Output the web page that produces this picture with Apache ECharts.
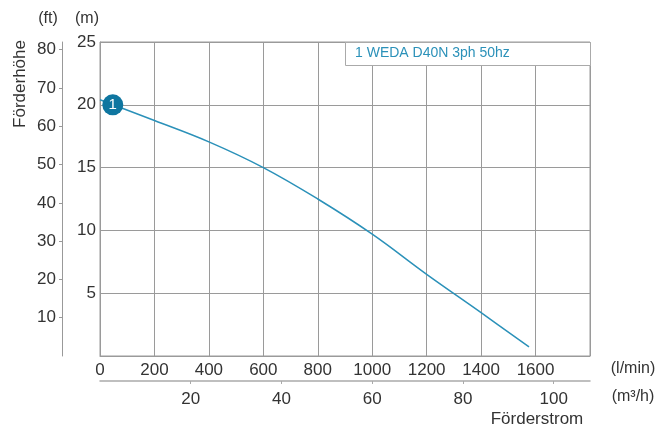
<!DOCTYPE html>
<html><head><meta charset="utf-8">
<script src="https://cdn.jsdelivr.net/npm/echarts@6/dist/echarts.min.js"></script>
<style>html,body{margin:0;padding:0;background:#fff}#c{width:672px;height:430px}</style>
</head><body><div id="c"></div>
<script>
// Data (flow in l/min, head in m)
const flowLmin = [0, 200, 400, 600, 800, 1000, 1200, 1400, 1576];
const headM    = [20.4, 18.75, 17.05, 15.0, 12.5, 9.7, 6.5, 3.45, 0.72];
const seriesName = '1 WEDA D40N 3ph 50hz';
const xLabelsLmin = [0, 200, 400, 600, 800, 1000, 1200, 1400, 1600];
const xLabelsM3h = [20, 40, 60, 80, 100];
const yLabelsM = [5, 10, 15, 20, 25];
const yLabelsFt = [10, 20, 30, 40, 50, 60, 70, 80];
const markerFlow = 47, markerHead = 20.0;

const FONT = 'Liberation Sans';
const txt = '#333';
const gridCol = '#9a9a9a';
const lineCol = '#2b91b9';
const plain = v => String(Math.round(v));

const chart = echarts.init(document.getElementById('c'), null, {renderer: 'canvas'});
chart.setOption({
  animation: false,
  backgroundColor: '#fff',
  textStyle: {fontFamily: FONT},
  grid: {left: 100, top: 42, width: 490, height: 314, show: true, borderColor: gridCol, borderWidth: 1},
  xAxis: [
    {type: 'value', min: 0, max: 1800, interval: 200, position: 'bottom',
     axisLine: {show: true, onZero: false, lineStyle: {color: gridCol}}, axisTick: {show: false},
     axisLabel: {customValues: xLabelsLmin, formatter: plain, color: txt, fontSize: 17, margin: 6, fontFamily: FONT},
     splitLine: {show: true, lineStyle: {color: gridCol, width: 1}}},
    {type: 'value', min: 0, max: 108, interval: 20, position: 'bottom', offset: 25,
     axisLine: {show: true, onZero: false, lineStyle: {color: '#aaa', width: 1.5}},
     axisTick: {show: true, customValues: xLabelsM3h, length: 3, lineStyle: {color: '#aaa'}},
     axisLabel: {customValues: xLabelsM3h, formatter: plain, color: txt, fontSize: 17, margin: 10, fontFamily: FONT},
     splitLine: {show: false}}
  ],
  yAxis: [
    {type: 'value', min: 0, max: 25, interval: 5, position: 'left',
     axisLine: {show: true, onZero: false, lineStyle: {color: gridCol}}, axisTick: {show: false},
     axisLabel: {customValues: yLabelsM, formatter: plain, color: txt, fontSize: 17, margin: 4, fontFamily: FONT},
     splitLine: {show: true, lineStyle: {color: gridCol, width: 1}}},
    {type: 'value', min: 0, max: 25 / 0.3048, position: 'left', offset: 38,
     axisLine: {show: true, onZero: false, lineStyle: {color: '#999'}},
     axisTick: {show: true, customValues: yLabelsFt, length: 3, lineStyle: {color: '#999'}},
     axisLabel: {customValues: yLabelsFt, formatter: plain, color: txt, fontSize: 17, margin: 6, fontFamily: FONT},
     splitLine: {show: false}}
  ],
  series: [
    {type: 'line', name: seriesName, xAxisIndex: 0, yAxisIndex: 0, smooth: 0.4,
     showSymbol: false, lineStyle: {color: lineCol, width: 1.5},
     data: flowLmin.map((f, i) => [f, headM[i]]), z: 3},
    {type: 'scatter', xAxisIndex: 0, yAxisIndex: 0, symbolSize: 21, z: 5,
     itemStyle: {color: '#0f76a0', opacity: 1},
     label: {show: true, position: 'inside', formatter: '1', color: '#fff', fontSize: 15,
             fontFamily: FONT, textBorderWidth: 0, textBorderColor: 'transparent'},
     data: [[markerFlow, markerHead]]}
  ],
  graphic: [
    {type: 'rect', left: 345, top: 42, shape: {width: 245, height: 23}, z: 10,
     style: {fill: '#fff', stroke: '#aaa', lineWidth: 1}},
    {type: 'text', left: 355, top: 46, z: 11,
     style: {text: seriesName, fill: lineCol, font: '14px ' + FONT}},
    {type: 'text', x: 48, y: 19, z: 11,
     style: {text: '(ft)', fill: txt, font: '16px ' + FONT, align: 'center', verticalAlign: 'middle'}},
    {type: 'text', x: 87, y: 19, z: 11,
     style: {text: '(m)', fill: txt, font: '16px ' + FONT, align: 'center', verticalAlign: 'middle'}},
    {type: 'text', x: 20, y: 84, rotation: Math.PI / 2, z: 11,
     style: {text: 'Förderhöhe', fill: txt, font: '17px ' + FONT, align: 'center', verticalAlign: 'middle'}},
    {type: 'text', x: 633, y: 369, z: 11,
     style: {text: '(l/min)', fill: txt, font: '16px ' + FONT, align: 'center', verticalAlign: 'middle'}},
    {type: 'text', x: 633, y: 397, z: 11,
     style: {text: '(m³/h)', fill: txt, font: '16px ' + FONT, align: 'center', verticalAlign: 'middle'}},
    {type: 'text', x: 537, y: 419, z: 11,
     style: {text: 'Förderstrom', fill: txt, font: '17px ' + FONT, align: 'center', verticalAlign: 'middle'}}
  ]
});
</script></body></html>
